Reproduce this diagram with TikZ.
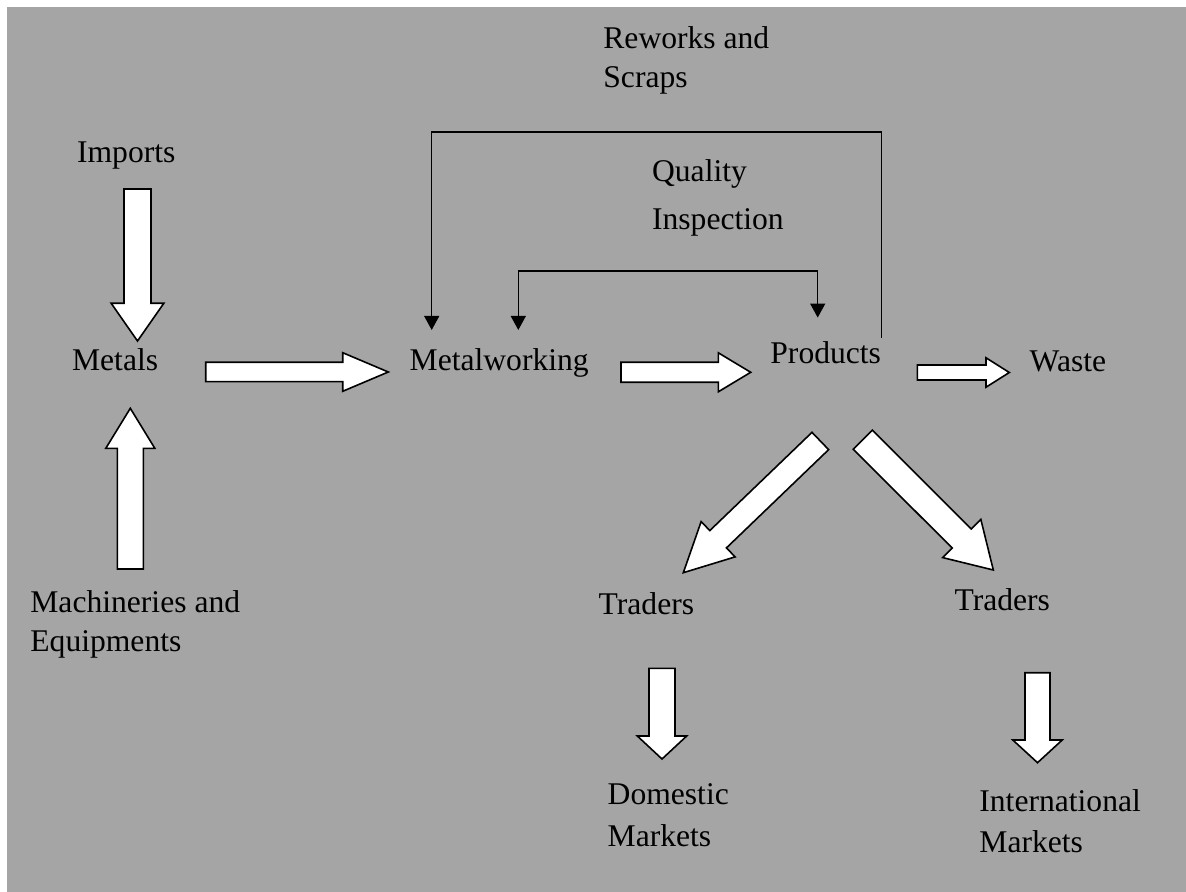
\documentclass[tikz,border=0pt]{standalone}
\usepackage{fontspec}
\setmainfont{Liberation Serif}
\usetikzlibrary{calc,arrows.meta}
\definecolor{bggray}{RGB}{165,165,165}
% fat white arrow: tail, tip, shaft half width, head half width, head length
\newcommand{\blockarrow}[5]{%
  \draw[blockarr] ($(#1)!#3!90:(#2)$)
    -- ($(#2)!#5!(#1)!#3!-90:(#1)$)
    -- ($(#2)!#5!(#1)!#4!-90:(#1)$)
    -- (#2)
    -- ($(#2)!#5!(#1)!#4!90:(#1)$)
    -- ($(#2)!#5!(#1)!#3!90:(#1)$)
    -- ($(#1)!#3!-90:(#2)$) -- cycle;}

\begin{document}
\begin{tikzpicture}[x=0.5pt, y=-0.5pt,
    lbl/.style={inner sep=0pt, anchor=base west, align=left,
        font=\fontsize{15.8pt}{19.5pt}\selectfont},
    blockarr/.style={draw=black, line width=0.8pt, fill=white, line join=miter},
    fbline/.style={line width=0.65pt},
    >={Triangle[width=7.5pt,length=7pt]}]
    % Background
    \useasboundingbox (0,0) rectangle (1186,892);
    \fill[white] (0,0) rectangle (1186,892);
    \fill[bggray] (7,7) rectangle (1186,892);

    % Inputs (left)
    \node[lbl] (imp) at (76.7,162.7) {Imports};
    \node[lbl] (met) at (71.7,370.7) {Metals};
    \node[lbl] (mach) at (30,651.7) {Machineries and\\Equipments};

    % Processing (middle)
    \node[lbl] (mw) at (409.3,371) {Metalworking};
    \node[lbl] (prod) at (770,364) {Products};
    \node[lbl] (waste) at (1029.3,371.7) {Waste};
    \node[lbl] (rework) at (603,88) {Reworks and\\Scraps};
    \node[lbl] (qual) at (651.7,229.3) {Quality\\[4.3pt]Inspection};

    % Markets (bottom right)
    \node[lbl] (tr1) at (598.3,614) {Traders};
    \node[lbl] (tr2) at (954.2,610.7) {Traders};
    \node[lbl] (dom) at (607.3,846.7) {Domestic\\[1.85pt]Markets};
    \node[lbl] (intl) at (979,852.3) {International\\[0.8pt]Markets};

    % Arrow ends
    \coordinate (imp-t) at (137.5,189);   \coordinate (imp-h) at (137.5,341);
    \coordinate (mach-t) at (130.3,569);  \coordinate (mach-h) at (130.3,408.3);
    \coordinate (met-t) at (205.7,372);   \coordinate (met-h) at (388.3,372);
    \coordinate (mw-t) at (621,372.3);    \coordinate (mw-h) at (750.7,372.3);
    \coordinate (prod-t) at (917.3,372.5); \coordinate (prod-h) at (1009.3,372.5);
    \coordinate (dl-t) at (820.3,441);    \coordinate (dl-h) at (683.3,572.7);
    \coordinate (dr-t) at (862.8,439.7);  \coordinate (dr-h) at (993.3,570);
    \coordinate (tr1-t) at (662,668.3);   \coordinate (tr1-h) at (662,759);
    \coordinate (tr2-t) at (1037.5,672.7); \coordinate (tr2-h) at (1037.5,762.7);

    % Block arrows
    \blockarrow{imp-t}{imp-h}{6.75pt}{13.15pt}{18.85pt}
    \blockarrow{mach-t}{mach-h}{6.5pt}{12.25pt}{20pt}
    \blockarrow{met-t}{met-h}{4.85pt}{9.65pt}{22.8pt}
    \blockarrow{mw-t}{mw-h}{5pt}{9.75pt}{16.2pt}
    \blockarrow{prod-t}{prod-h}{3.75pt}{7.35pt}{11.65pt}
    \blockarrow{dl-t}{dl-h}{6pt}{12.25pt}{24.15pt}
    \blockarrow{dr-t}{dr-h}{6.75pt}{13.5pt}{22.3pt}
    \blockarrow{tr1-t}{tr1-h}{6.5pt}{12.35pt}{11.5pt}
    \blockarrow{tr2-t}{tr2-h}{6.25pt}{12.35pt}{11.35pt}

    % Feedback loops
    \draw[fbline,->] ([yshift=2pt]prod.north east) -- ++(0,-205.6)
        -| ([xshift=11.2pt,yshift=9.35pt]mw.north west);
    \draw[fbline,<->] ([xshift=54.5pt,yshift=9.35pt]mw.north west) -- ++(0,-59)
        -| ([xshift=23.85pt,yshift=12.05pt]prod.north west);
\end{tikzpicture}
\end{document}
